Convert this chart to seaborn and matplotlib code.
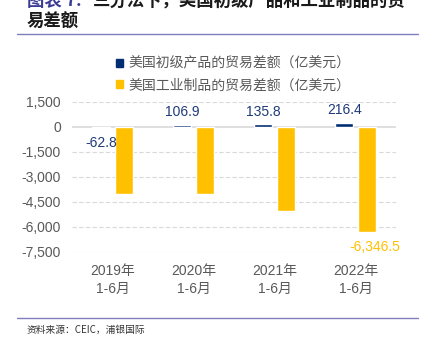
import matplotlib
matplotlib.use("Agg")
import matplotlib.pyplot as plt
import seaborn as sns
import pandas as pd
from matplotlib.lines import Line2D
from matplotlib.patches import Patch

categories = ["2019年\n1-6月", "2020年\n1-6月", "2021年\n1-6月", "2022年\n1-6月"]
series_names = ["美国初级产品的贸易差额（亿美元）", "美国工业制品的贸易差额（亿美元）"]
primary = [-62.8, 106.9, 135.8, 216.4]
industrial = [-4040.0, -4040.0, -5060.0, -6346.5]
yticks = [1500, 0, -1500, -3000, -4500, -6000, -7500]

BLUE = "#002D72"
YELLOW = "#FFC000"
LABEL_BLUE = "#1F3A7A"
GREY = "#595959"

sns.set_theme(style="white")
plt.rcParams["font.family"] = ["Liberation Sans", "Noto Sans CJK SC", "DejaVu Sans"]

df = pd.DataFrame({
    "cat": categories * 2,
    "series": [series_names[0]] * 4 + [series_names[1]] * 4,
    "value": primary + industrial,
})

fig = plt.figure(figsize=(4.26, 3.49), dpi=100)
ax = fig.add_axes([72 / 426, 1 - 251.7 / 349, 324 / 426, 150 / 349])

sns.barplot(data=df, x="cat", y="value", hue="series", order=categories,
            hue_order=series_names, palette=[BLUE, YELLOW], width=0.56, gap=0.2,
            ax=ax, legend=False, saturation=1)

ax.set_ylim(-7500, 1500)
ax.set_xlim(-0.5, 3.5)
ax.set_yticks(yticks)
ax.set_yticklabels([f"{v:,}" for v in yticks])
for y in yticks:
    if y == 0:
        ax.axhline(0, color="#D9D9D9", lw=1.2, zorder=0.5)
    else:
        ax.axhline(y, color="#D9D9D9", lw=0.8, ls=(0, (4, 2)), zorder=0.5)
for s in ax.spines.values():
    s.set_visible(False)
ax.set_xlabel("")
ax.set_ylabel("")
ax.tick_params(axis="both", length=0, labelsize=10, labelcolor=GREY)
ax.tick_params(axis="y", pad=8)
ax.tick_params(axis="x", pad=9)
for t in ax.get_xticklabels():
    t.set_linespacing(1.35)

# data labels
bars = ax.patches
for i, v in enumerate(primary):
    b = bars[i]
    cx = b.get_x() + b.get_width() / 2
    if v < 0:
        ax.text(cx, -550, f"{v:,.1f}", ha="center", va="top", fontsize=10, color=LABEL_BLUE)
    else:
        ax.text(cx, v + 350, f"{v:,.1f}", ha="center", va="bottom", fontsize=10, color=LABEL_BLUE)
b = bars[4 + 3]
cx = b.get_x() + b.get_width() / 2
ax.text(cx + 0.1, industrial[3] - 450, f"{industrial[3]:,.1f}", ha="center", va="top",
        fontsize=10, color=YELLOW, clip_on=False)

# legend
handles = [Patch(color=BLUE), Patch(color=YELLOW)]
leg = fig.legend(handles, series_names, loc="upper left", bbox_to_anchor=(110 / 426, 1 - 51 / 349),
                 frameon=False, fontsize=10, handlelength=0.5, handleheight=0.5,
                 handletextpad=0.45, labelspacing=0.55, labelcolor=GREY, borderaxespad=0)
for t in leg.get_texts():
    t.set_fontfamily(["Noto Sans CJK SC"])

# title (first line clipped at top, as in the reference)
fig.text(27 / 426, 1 - 1 / 349, "图表 7: ", ha="left", va="center", fontsize=12.5,
         color="#3C3C96", fontweight="bold", family=["Noto Sans CJK SC"])
fig.text(93 / 426, 1 - 1 / 349, "三分法下，美国初级产品和工业制品的贸", ha="left", va="center",
         fontsize=12.5, color="#1A1A1A", fontweight="bold", family=["Noto Sans CJK SC"])
fig.text(27 / 426, 1 - 22 / 349, "易差额", ha="left", va="center", fontsize=12.5,
         color="#1A1A1A", fontweight="bold", family=["Noto Sans CJK SC"])

fig.add_artist(Line2D([17 / 426, 418 / 426], [1 - 34 / 349, 1 - 34 / 349],
                      color="#7F7FBF", lw=1))
fig.add_artist(Line2D([17 / 426, 418 / 426], [1 - 318 / 349, 1 - 318 / 349],
                      color="#7F7FBF", lw=1))
fig.text(27 / 426, 1 - 330 / 349, "资料来源：CEIC，浦银国际", ha="left", va="center",
         fontsize=7, color="#333333", family=["Noto Sans CJK SC"])

fig.savefig("out.png", dpi=100)
